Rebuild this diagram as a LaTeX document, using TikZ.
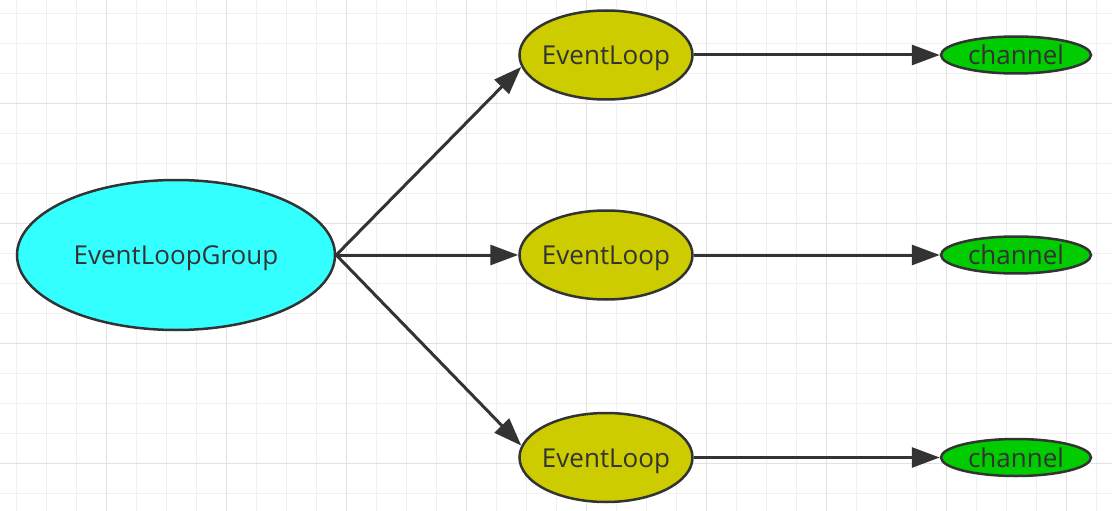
\documentclass[tikz,border=0pt]{standalone}
\usepackage{fontspec}
\setmainfont{Open Sans}
\usetikzlibrary{shapes.geometric,arrows.meta}
\definecolor{gridminor}{HTML}{F0F0F0}
\definecolor{gridmajor}{HTML}{E2E2E2}
\definecolor{edgec}{HTML}{333333}
\definecolor{groupfill}{HTML}{33FFFF}
\definecolor{loopfill}{HTML}{CCCC00}
\definecolor{chanfill}{HTML}{00CC00}
\tikzset{
  ell/.style={ellipse, draw=edgec, line width=2.5pt, inner xsep=-40pt, inner ysep=-10pt, text=edgec, font=\fontsize{26}{30}\selectfont, text height=19pt, text depth=0pt},
  groupnode/.style={ell, fill=groupfill, minimum width=318pt, minimum height=150pt},
  loopnode/.style={ell, fill=loopfill, minimum width=173pt, minimum height=89pt},
  channode/.style={ell, fill=chanfill, minimum width=150pt, minimum height=37pt},
  conn/.style={draw=edgec, line width=3pt, -{Triangle[length=28pt,width=20pt]}}
}
\begin{document}
\begin{tikzpicture}[x=1pt,y=-1pt]
\fill[white] (0,0) rectangle (1112,511);
\useasboundingbox (0,0) rectangle (1112,511);
\foreach \k in {0,...,36} {
  \pgfmathsetmacro{\xx}{16.7+30*\k}
  \draw[gridminor, line width=1.5pt] (\xx,0) -- (\xx,511);
}
\foreach \k in {0,...,16} {
  \pgfmathsetmacro{\yy}{13.3+30*\k}
  \draw[gridminor, line width=1.5pt] (0,\yy) -- (1112,\yy);
}
\foreach \k in {0,...,8} {
  \pgfmathsetmacro{\xx}{106.7+120*\k}
  \draw[gridmajor, line width=1.5pt] (\xx,0) -- (\xx,511);
}
\foreach \k in {0,...,3} {
  \pgfmathsetmacro{\yy}{103.3+120*\k}
  \draw[gridmajor, line width=1.5pt] (0,\yy) -- (1112,\yy);
}
\node[groupnode] (g) at (176,255) {EventLoopGroup};
\node[loopnode] (e1) at (606,55) {EventLoop};
\node[loopnode] (e2) at (606,255) {EventLoop};
\node[loopnode] (e3) at (606,457.5) {EventLoop};
\node[channode] (c1) at (1016,55) {channel};
\node[channode] (c2) at (1016,255) {channel};
\node[channode] (c3) at (1016,457.5) {channel};
\draw[conn] (g.east) -- (e1.188);
\draw[conn] (g.east) -- (e2);
\draw[conn] (g.east) -- (e3.172);
\draw[conn] (e1) -- (c1);
\draw[conn] (e2) -- (c2);
\draw[conn] (e3) -- (c3);
\end{tikzpicture}
\end{document}
